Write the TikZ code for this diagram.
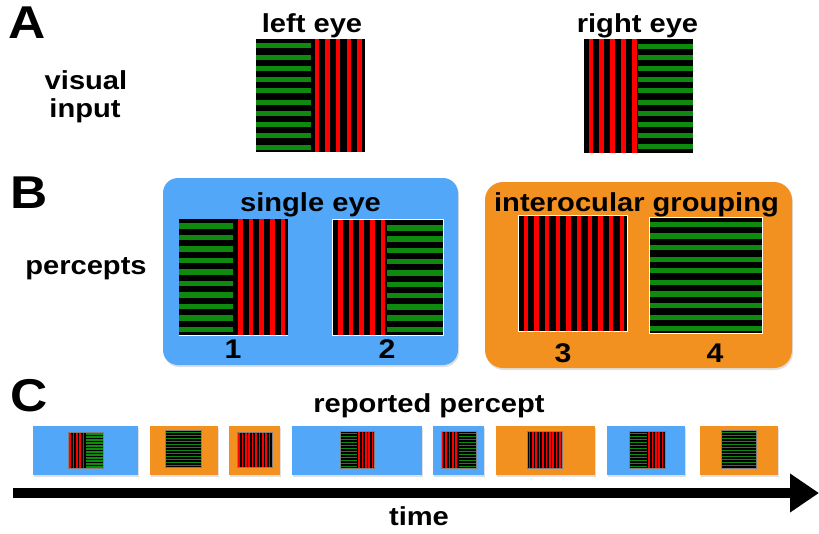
\documentclass[tikz,border=0pt]{standalone}
\usepackage{fontspec}
\setmainfont{Liberation Sans}
\usetikzlibrary{arrows.meta,shadows}
\definecolor{ggreen}{RGB}{14,138,14}
\definecolor{rred}{RGB}{255,0,0}
\definecolor{pblue}{RGB}{82,167,248}
\definecolor{porange}{RGB}{242,145,32}
% horizontal stripes: x0, x1, ystart, period, width, lastindex, colour
\newcommand\HStr[7]{\foreach \k in {0,...,#6}{\fill[#7] (#1,{#3+\k*#4}) rectangle (#2,{#3+\k*#4+#5});}}
% vertical stripes: y0, y1, xstart, period, width, lastindex, colour
\newcommand\VStr[7]{\foreach \k in {0,...,#6}{\fill[#7] ({#3+\k*#4},#1) rectangle ({#3+\k*#4+#5},#2);}}
% small stimuli
\newcommand\SmG[4]{\fill[black] (#1,#2) rectangle (#3,#4);
  \HStr{#1}{#3}{#2+1}{3}{1.6}{11}{ggreen}
  \draw[gray,line width=0.5pt] (#1,#2) rectangle (#3,#4);}
\newcommand\SmR[4]{\fill[black] (#1,#2) rectangle (#3,#4);
  \VStr{#2}{#4}{#1+0.8}{3.4}{1.6}{9}{rred}
  \draw[gray,line width=0.5pt] (#1,#2) rectangle (#3,#4);}
% red left, green right: x0 y0 xm x1 y1
\newcommand\SmRG[5]{\fill[black] (#1,#2) rectangle (#4,#5);
  \VStr{#2}{#5}{#1+0.8}{3.4}{1.6}{4}{rred}
  \HStr{#3}{#4}{#2+1}{3}{1.6}{11}{ggreen}
  \draw[gray,line width=0.5pt] (#1,#2) rectangle (#4,#5);}
% green left, red right: x0 y0 xm x1 y1
\newcommand\SmGR[5]{\fill[black] (#1,#2) rectangle (#4,#5);
  \HStr{#1}{#3}{#2+1}{3}{1.6}{11}{ggreen}
  \VStr{#2}{#5}{#3+0.8}{3.4}{1.6}{4}{rred}
  \draw[gray,line width=0.5pt] (#1,#2) rectangle (#4,#5);}
\begin{document}
\begin{tikzpicture}[x=1pt,y=-1pt,
  lbl/.style={font=\fontsize{26}{30}\selectfont\bfseries, inner sep=0pt, anchor=base, xscale=1.12},
  letter/.style={font=\fontsize{46}{50}\selectfont\bfseries, inner sep=0pt, anchor=base west, xscale=1.12},
  digit/.style={font=\fontsize{27}{30}\selectfont\bfseries, inner sep=0pt, anchor=base, xscale=1.12},
  panel/.style={drop shadow={opacity=0.25,shadow xshift=1pt,shadow yshift=-2pt}},
  tbox/.style={drop shadow={opacity=0.25,shadow xshift=1pt,shadow yshift=-1.5pt}}]
\useasboundingbox (0,0) rectangle (819,533);
\fill[white] (0,0) rectangle (819,533);

% ---------- A ----------
\node[letter] (lA) at (8,38) {A};
\node[lbl] (vis) at (86,89) {visual};
\node[lbl] (inp) at (85,117) {input};
\node[lbl] (leye) at (312,32) {left eye};
\node[lbl] (reye) at (637.5,32) {right eye};
% left eye stimulus
\fill[black] (256,39) rectangle (365,152);
\HStr{256}{310.7}{43.3}{11.26}{5}{9}{ggreen}
\VStr{39}{152}{314.5}{10.67}{4.6}{4}{rred}
% right eye stimulus
\fill[black] (584,39) rectangle (693,153);
\VStr{39}{153}{588.5}{10.9}{4.6}{4}{rred}
\HStr{638}{693}{44}{11.1}{5}{9}{ggreen}

% ---------- B ----------
\node[letter] (lB) at (10,208) {B};
\node[lbl] (perc) at (86,274) {percepts};
\fill[pblue,rounded corners=15pt,panel] (163,178) rectangle (458,365);
\fill[porange,rounded corners=18pt,panel] (485,182) rectangle (792,368);
\node[lbl] (single) at (310.5,211) {single eye};
\node[lbl] (inter) at (636.5,211) {interocular grouping};
% percept 1
\fill[black] (179,219) rectangle (288,335);
\HStr{179}{233.3}{223.3}{11.47}{5.5}{9}{ggreen}
\VStr{219}{335}{237.9}{10.67}{4.6}{4}{rred}
\draw[white,line width=1pt] (179,335) -- (288,335);
% percept 2
\fill[black] (332,219) rectangle (443,335);
\VStr{219}{335}{337.9}{10.67}{4.6}{4}{rred}
\HStr{386.7}{443}{225}{11.3}{5.5}{9}{ggreen}
\draw[white,line width=1pt] (332,219) rectangle (443,335);
% percept 3
\fill[black] (518,215) rectangle (627,331);
\VStr{215}{331}{523.5}{10.67}{4.6}{9}{rred}
\draw[white,line width=1pt] (518,215) rectangle (627,331);
% percept 4
\fill[black] (649,217) rectangle (762,333);
\HStr{649}{762}{221.7}{11.6}{5.3}{9}{ggreen}
\draw[white,line width=1pt] (649,217) rectangle (762,333);
\node[digit] (n1) at (233,358) {1};
\node[digit] (n2) at (387,358) {2};
\node[digit] (n3) at (563,362) {3};
\node[digit] (n4) at (715,362) {4};

% ---------- C ----------
\node[letter] (lC) at (10,411) {C};
\node[lbl] (rep) at (429,412) {reported percept};
\fill[pblue,tbox] (32.7,426) rectangle (137.7,475);
\fill[porange,tbox] (150,426) rectangle (217.7,475);
\fill[porange,tbox] (229,426) rectangle (280,475);
\fill[pblue,tbox] (291.7,426) rectangle (421.7,475);
\fill[pblue,tbox] (432.7,426) rectangle (484,475);
\fill[porange,tbox] (496,426) rectangle (595,475);
\fill[pblue,tbox] (606.7,426) rectangle (685,475);
\fill[porange,tbox] (700,426) rectangle (777.7,475);
\SmRG{68.3}{432.3}{85.9}{103.3}{468.5}
\SmG{165}{430.7}{201.7}{467.7}
\SmR{237.3}{432.3}{272.3}{467.7}
\SmGR{340}{431.7}{357.3}{374}{468.3}
\SmRG{441}{431.7}{459}{476.7}{468.3}
\SmR{527.7}{431.7}{562.7}{468.3}
\SmGR{629}{431.7}{647.3}{665}{468.3}
\SmG{721}{430.7}{756.7}{468.3}
% time arrow
\coordinate (tstart) at (13,493);
\coordinate (tend) at (819,493);
\draw[line width=10pt,-{Triangle[length=29pt,width=37pt]}] (tstart) -- (tend);
\node[lbl] (time) at (419,525) {time};
\end{tikzpicture}
\end{document}
